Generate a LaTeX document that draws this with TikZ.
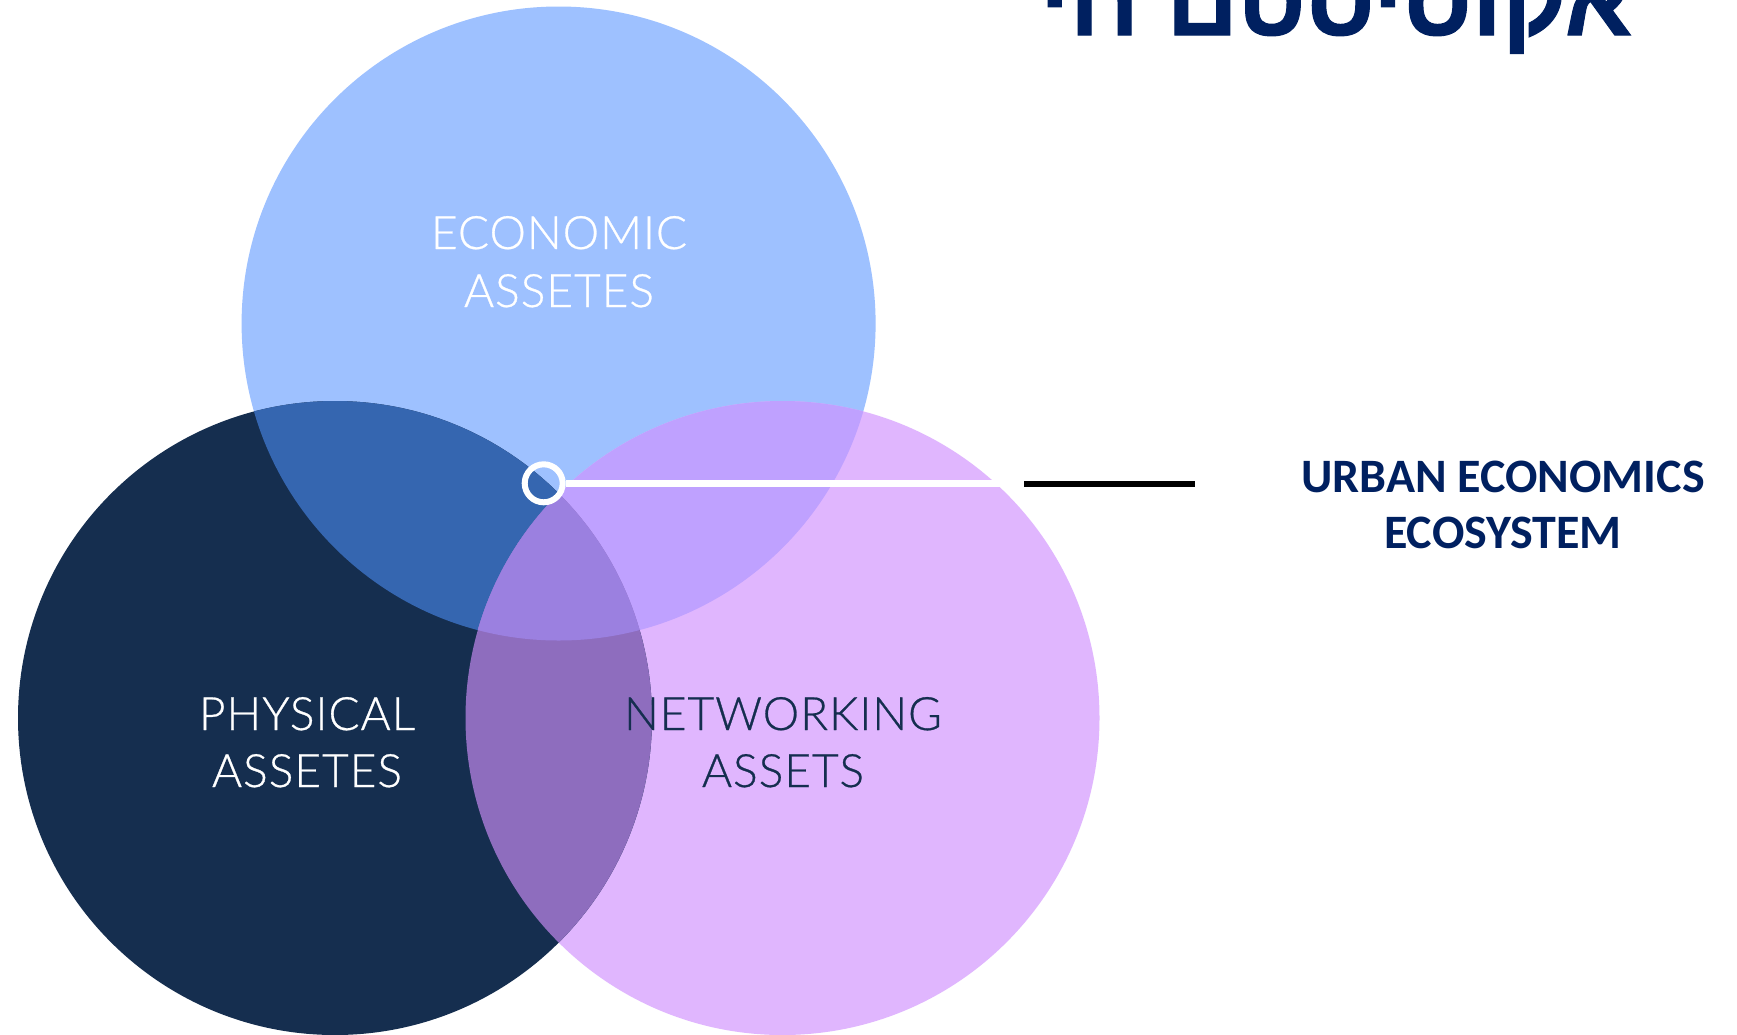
\documentclass[tikz,border=0pt]{standalone}
\usepackage{fontspec}
\TeXXeTstate=1
\newfontfamily\hebfont[Script=Hebrew,FakeBold=1]{Liberation Sans Bold}
\newfontfamily\calfont{Carlito}
\newfontfamily\labfont[LetterSpace=2.2,FakeBold=0.6]{Lato Light}
\definecolor{econ}{HTML}{9EC1FF}
\definecolor{phys}{HTML}{152E4F}
\definecolor{netw}{HTML}{E0B6FE}
\definecolor{econphys}{HTML}{3566B0}
\definecolor{econnetw}{HTML}{BFA1FF}
\definecolor{physnetw}{HTML}{8E6DBE}
\definecolor{triple}{HTML}{9B80E0}
\definecolor{navy}{HTML}{002060}
\tikzset{
  lab/.style={font=\labfont\fontsize{46}{57}\selectfont, align=center, anchor=base, inner sep=0pt},
  title/.style={font=\calfont\bfseries\fontsize{48}{57}\selectfont, text=navy, align=center, anchor=base, inner sep=0pt},
}
\def\cE{(558.6,323.5) circle [radius=317]}
\def\cP{(335,718) circle [radius=317]}
\def\cN{(782.5,718) circle [radius=317]}
\begin{document}
\begin{tikzpicture}[x=1pt,y=-1pt]
\useasboundingbox (0,0) rectangle (1737,1034);
\clip (0,0) rectangle (1737,1034);
\fill[white] (0,0) rectangle (1737,1034);
\fill[econ] \cE;
\fill[netw] \cN;
\fill[phys] \cP;
\begin{scope}\clip \cE; \fill[econphys] \cP; \fill[econnetw] \cN; \end{scope}
\begin{scope}\clip \cP; \fill[physnetw] \cN; \end{scope}
\begin{scope}\clip \cE; \clip \cP; \fill[triple] \cN; \end{scope}
\node[lab,text=white] (e1) at (559,249) {ECONOMIC};
\node[lab,text=white] (e2) at (559,307) {ASSETES};
\node[lab,text=white] (p1) at (307,730) {PHYSICAL};
\node[lab,text=white] (p2) at (307,787) {ASSETES};
\node[lab,text=phys] (n1) at (783,730) {NETWORKING};
\node[lab,text=phys] (n2) at (783,787) {ASSETS};
\node[circle,draw=white,line width=6pt,minimum size=38pt,inner sep=0pt] (ring) at (543.7,483.3) {};
\coordinate (wend) at (1002,483.5);
\draw[white,line width=6.4pt] (ring.east |- wend) -- (wend);
\coordinate (b1) at (1024,483.5);
\coordinate (b2) at (1195,483.5);
\draw[black,line width=6pt] (b1) -- (b2);
\node[title] (t1) at (1503,492) {URBAN ECONOMICS};
\node[title] (t2) at (1503,548) {ECOSYSTEM};
\node[inner sep=0pt,anchor=base,text=navy,font=\hebfont\fontsize{99}{99}\selectfont] (heb) at (1336,35) {\beginR אקוסיסטם חי\endR};
\end{tikzpicture}
\end{document}
